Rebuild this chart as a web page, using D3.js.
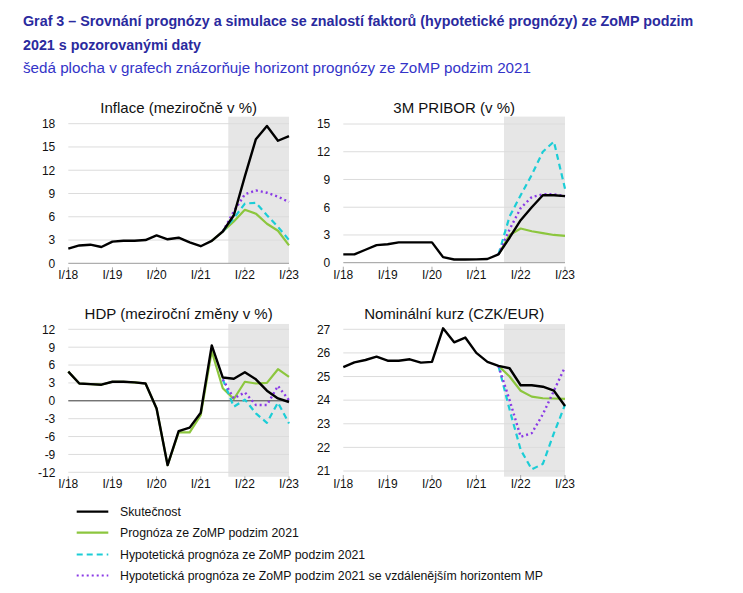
<!DOCTYPE html>
<html><head><meta charset="utf-8">
<script src="https://cdn.jsdelivr.net/npm/d3@7"></script>
<style>
body{margin:0;background:#fff;}
svg{display:block;font-family:"Liberation Sans",Arial,sans-serif;}
</style></head>
<body><svg id="c" width="743" height="593"></svg>
<script>
// Quarters 2018Q1 .. 2023Q1
const quarters = d3.range(21).map(i => (2018 + Math.floor(i/4)) + "Q" + (i%4+1));
const yearTicks = ["I/18","I/19","I/20","I/21","I/22","I/23"];
const N = null;

// Inflation (y/y, %)
const inflActual = [1.9,2.3,2.4,2.1,2.8,2.9,2.9,3.0,3.6,3.1,3.3,2.7,2.2,2.9,4.1,6.2,11.2,16.0,17.7,15.8,16.4];
const inflForecast = [N,N,N,N,N,N,N,N,N,N,N,N,N,2.9,4.1,5.4,6.9,6.4,5.1,4.2,2.3];
const inflHyp = [N,N,N,N,N,N,N,N,N,N,N,N,N,N,4.1,5.8,7.7,7.8,6.2,4.7,3.0];
const inflHypMP = [N,N,N,N,N,N,N,N,N,N,N,N,N,N,4.1,6.7,8.9,9.4,9.1,8.6,7.9];

// 3M PRIBOR (%)
const priborActual = [0.9,0.9,1.4,1.9,2.0,2.2,2.2,2.2,2.2,0.6,0.35,0.35,0.36,0.4,0.9,2.7,4.6,6.0,7.3,7.3,7.2];
const priborForecast = [N,N,N,N,N,N,N,N,N,N,N,N,N,N,0.9,3.0,3.7,3.4,3.2,3.0,2.9];
const priborHyp = [N,N,N,N,N,N,N,N,N,N,N,N,N,N,0.9,5.0,7.3,9.5,12.0,13.1,8.0];
const priborHypMP = [N,N,N,N,N,N,N,N,N,N,N,N,N,N,0.9,3.6,5.9,7.1,7.4,7.4,7.2];

// GDP (y/y change, %)
const gdpActual = [4.9,2.9,2.8,2.7,3.2,3.2,3.1,2.9,-1.3,-10.8,-5.1,-4.5,-2.0,9.3,3.9,3.7,4.8,3.6,1.7,0.4,-0.2];
const gdpForecast = [4.9,2.9,2.8,2.7,3.2,3.2,3.1,2.9,-1.3,-10.8,-5.3,-5.3,-2.4,8.3,2.1,0.3,3.2,2.9,3.0,5.3,4.0];
const gdpHyp = [N,N,N,N,N,N,N,N,N,N,N,N,N,N,3.6,-1.0,0.2,-2.1,-3.7,-0.3,-3.8];
const gdpHypMP = [N,N,N,N,N,N,N,N,N,N,N,N,N,N,3.6,0.4,1.4,-0.7,-0.7,2.5,0.1];

// Nominal exchange rate (CZK/EUR)
const fxActual = [25.4,25.6,25.7,25.84,25.67,25.67,25.73,25.59,25.62,27.04,26.45,26.65,26.0,25.62,25.45,25.35,24.63,24.63,24.57,24.4,23.75];
const fxForecast = [N,N,N,N,N,N,N,N,N,N,N,N,N,N,25.45,25.0,24.4,24.15,24.08,24.07,24.05];
const fxHyp = [N,N,N,N,N,N,N,N,N,N,N,N,N,N,25.45,23.6,21.9,21.07,21.3,22.6,23.8];
const fxHypMP = [N,N,N,N,N,N,N,N,N,N,N,N,N,N,25.45,24.0,22.45,22.6,23.4,24.4,25.4];

const seriesNames = ["Skutečnost","Prognóza ze ZoMP podzim 2021","Hypotetická prognóza ze ZoMP podzim 2021","Hypotetická prognóza ze ZoMP podzim 2021 se vzdálenějším horizontem MP"];

const styles = [
  {color:"#000000", width:2.4, dash:null},
  {color:"#8cc63e", width:2.2, dash:null},
  {color:"#1ccdd6", width:2.2, dash:"6,4"},
  {color:"#8a3ae6", width:2.4, dash:"2,3"}
];

const panels = [
  {title:"Inflace (meziročně v %)", x0:68.3, x1:289, yv:[0,18], yp:[263.3,123.7], band:[0,18.9], ticks:[0,3,6,9,12,15,18], data:[inflActual,inflForecast,inflHyp,inflHypMP], titleY:112.5, labelY:278.5, zero:false},
  {title:"3M PRIBOR (v %)", x0:343.3, x1:565, yv:[0,15], yp:[262.7,124], band:[0,15.8], ticks:[0,3,6,9,12,15], data:[priborActual,priborForecast,priborHyp,priborHypMP], titleY:112.5, labelY:278.5, zero:false},
  {title:"HDP (meziroční změny v %)", x0:68.3, x1:289, yv:[-12,12], yp:[472.3,329.3], band:[-12.75,12.9], ticks:[-12,-9,-6,-3,0,3,6,9,12], data:[gdpActual,gdpForecast,gdpHyp,gdpHypMP], titleY:319, labelY:488, zero:true},
  {title:"Nominální kurz (CZK/EUR)", x0:343.3, x1:565, yv:[21,27], yp:[471,329.3], band:[20.76,27.22], ticks:[21,22,23,24,25,26,27], data:[fxActual,fxForecast,fxHyp,fxHypMP], titleY:319, labelY:488, zero:false}
];

const svg = d3.select("#c");

// Title
const T = svg.append("g");
T.append("text").attr("x",23).attr("y",26).attr("font-size",14.3).attr("font-weight","bold").attr("fill","#2a2a9e")
  .text("Graf 3 – Srovnání prognózy a simulace se znalostí faktorů (hypotetické prognózy) ze ZoMP podzim");
T.append("text").attr("x",23).attr("y",50).attr("font-size",14.3).attr("font-weight","bold").attr("fill","#2a2a9e")
  .text("2021 s pozorovanými daty");
T.append("text").attr("x",23).attr("y",73).attr("font-size",15.2).attr("fill","#3434c8")
  .text("šedá plocha v grafech znázorňuje horizont prognózy ze ZoMP podzim 2021");

panels.forEach(p => {
  const g = svg.append("g");
  const x = d3.scaleLinear().domain([0, quarters.length-1]).range([p.x0, p.x1]);
  const y = d3.scaleLinear().domain(p.yv).range(p.yp);
  // forecast band
  g.append("rect").attr("x", x(14.5)).attr("width", x(20)-x(14.5))
    .attr("y", y(p.band[1])).attr("height", y(p.band[0]) - y(p.band[1]))
    .attr("fill","#e6e6e6");
  // gridlines
  g.selectAll("line.grid").data(p.ticks).join("line")
    .attr("x1", p.x0).attr("x2", p.x1)
    .attr("y1", d=>y(d)).attr("y2", d=>y(d))
    .attr("stroke", d => (d===0 && !p.zero) ? "#9a9a9a" : "#dcdcdc").attr("stroke-width",1);
  if (p.zero) {
    g.append("line").attr("x1",p.x0).attr("x2",p.x1).attr("y1",y(0)).attr("y2",y(0)).attr("stroke","#444").attr("stroke-width",1);
  }
  // y labels
  const yAxis = d3.axisLeft(y).tickValues(p.ticks).tickSize(0).tickPadding(13).tickFormat(d => String(d));
  const ya = g.append("g").attr("transform",`translate(${p.x0},0)`).call(yAxis);
  ya.select(".domain").remove();
  ya.selectAll("text").attr("font-size",12).attr("font-family","Liberation Sans, Arial, sans-serif").attr("fill","#111");
  // x ticks and labels
  const base = y(p.yv[0]);
  const xt = yearTicks.map((t,i)=>({t, i:i*4}));
  g.selectAll("line.xt").data(xt).join("line")
    .attr("x1",d=>x(d.i)).attr("x2",d=>x(d.i)).attr("y1",base+4).attr("y2",base+8)
    .attr("stroke","#aaa").attr("stroke-width",1);
  g.selectAll("text.xl").data(xt).join("text")
    .attr("x",d=>x(d.i)).attr("y",p.labelY).attr("text-anchor","middle")
    .attr("font-size",12).attr("fill","#111").text(d=>d.t);
  // title
  g.append("text").attr("x",(p.x0+p.x1)/2).attr("y",p.titleY).attr("text-anchor","middle")
    .attr("font-size",15).attr("fill","#111").text(p.title);
  // lines: forecast, hyp, hypMP, then actual on top
  const order = [1,2,3,0];
  order.forEach(k => {
    const line = d3.line().defined(d=>d!==null).x((d,i)=>x(i)).y(d=>y(d)).curve(d3.curveLinear);
    const path = g.append("path").datum(p.data[k]).attr("d", line)
      .attr("fill","none").attr("stroke",styles[k].color).attr("stroke-width",styles[k].width)
      .attr("stroke-linejoin","round");
    if (styles[k].dash) path.attr("stroke-dasharray", styles[k].dash);
  });
});

// Legend
const L = svg.append("g");
const rowY = [511.7,532.7,554.5,575.5];
seriesNames.forEach((name,k) => {
  const l = L.append("line").attr("x1",76.7).attr("x2",108.3).attr("y1",rowY[k]).attr("y2",rowY[k])
    .attr("stroke",styles[k].color).attr("stroke-width",2.2);
  if (styles[k].dash) l.attr("stroke-dasharray", styles[k].dash);
  L.append("text").attr("x",120).attr("y",rowY[k]+4.5).attr("font-size",12.3).attr("fill","#111").text(name);
});
</script>
</body></html>
